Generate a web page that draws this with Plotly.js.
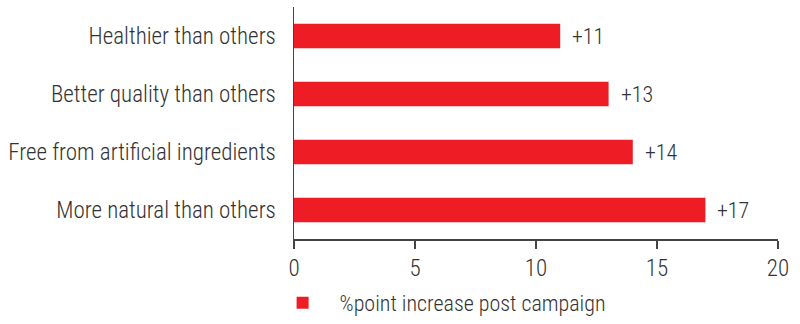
<!DOCTYPE html>
<html><head><meta charset="utf-8">
<script src="https://cdn.plot.ly/plotly-3.0.1.min.js"></script>
<style>body{margin:0;padding:0;background:#fff}#chart{width:800px;height:324px}</style>
</head><body><div id="chart"></div>
<script>
const categories = ["More natural than others", "Free from artificial ingredients", "Better quality than others", "Healthier than others"];
const values = [17, 14, 13, 11];
const labels = ["+17", "+14", "+13", "+11"];
const seriesName = "%point increase post campaign";
const xTicks = [0, 5, 10, 15, 20];

const FONT = "'Liberation Sans Narrow', 'Roboto Condensed', 'Arial Narrow', Roboto, sans-serif";
const TXT = "#333333";

const trace = {
  type: "bar", orientation: "h",
  x: values, y: categories, name: seriesName,
  marker: {color: "#ee1d25"},
  width: 0.42,
  showlegend: true,
  hoverinfo: "none"
};

const annotations = values.map((v, i) => ({
  x: v, y: categories[i], xref: "x", yref: "y",
  text: labels[i], showarrow: false, xanchor: "left", xshift: 10,
  font: {family: FONT, size: 22, color: TXT, weight: 300}
}));

const layout = {
  width: 800, height: 324,
  margin: {l: 294, r: 22, t: 7, b: 85},
  paper_bgcolor: "#fff", plot_bgcolor: "#fff",
  font: {family: FONT, color: TXT, size: 22, weight: 300},
  xaxis: {
    range: [0, 20], tickvals: xTicks, ticktext: xTicks.map(String),
    showgrid: false, zeroline: false, showline: true, linecolor: "#444", linewidth: 1.5,
    ticks: "outside", ticklen: 8, tickwidth: 1.5, tickcolor: "#444",
    tickfont: {family: FONT, size: 23, color: TXT, weight: 300}, fixedrange: true
  },
  yaxis: {
    categoryorder: "array", categoryarray: categories,
    range: [-0.5, 3.5],
    showgrid: false, zeroline: false, showline: true, linecolor: "#444", linewidth: 1.5,
    ticks: "", ticklabelstandoff: 12,
    tickfont: {family: FONT, size: 23, color: TXT, weight: 300}, fixedrange: true
  },
  showlegend: true,
  legend: {orientation: "h", xref: "container", yref: "container", x: 0.332, xanchor: "left", y: -0.025, yanchor: "bottom",
    font: {family: FONT, size: 22, color: TXT, weight: 300}, itemwidth: 64},
  annotations: annotations
};

Plotly.newPlot("chart", [trace], layout, {displayModeBar: false, staticPlot: true});
</script></body></html>
